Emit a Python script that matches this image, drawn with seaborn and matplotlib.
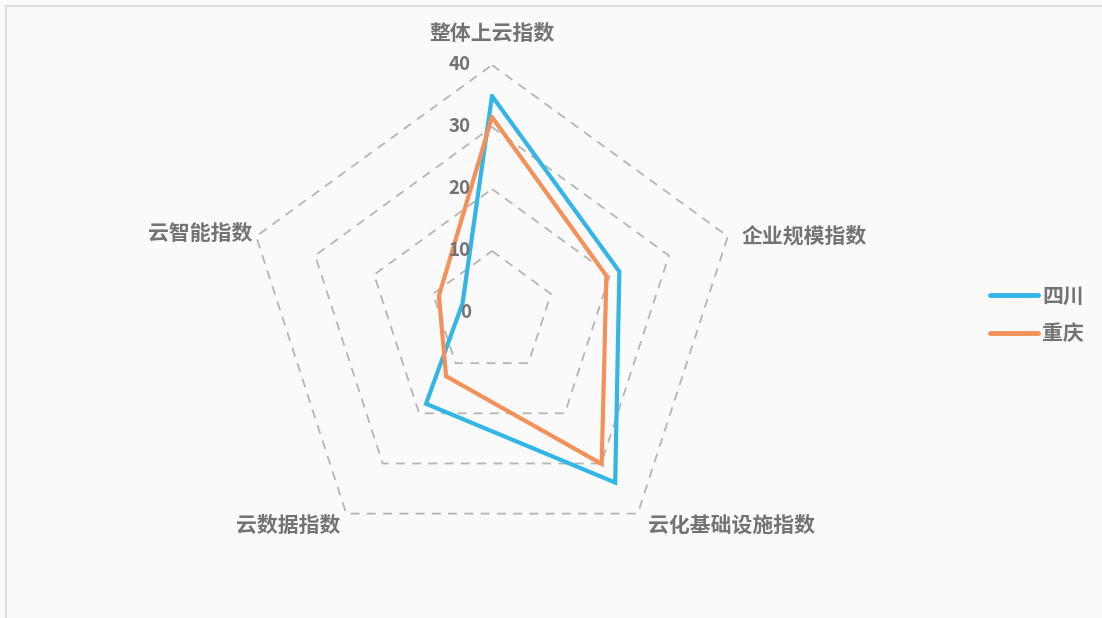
import numpy as np
import pandas as pd
import matplotlib
matplotlib.use("Agg")
import matplotlib.pyplot as plt
from matplotlib.lines import Line2D
from matplotlib.patches import Rectangle
import seaborn as sns

# Data
categories = ["整体上云指数", "企业规模指数", "云化基础设施指数", "云数据指数", "云智能指数"]
sichuan = [35.0, 21.6, 33.8, 18.1, 5.0]
chongqing = [31.6, 19.4, 30.1, 12.6, 9.0]
series_names = ["四川", "重庆"]
colors = ["#33b6e6", "#f4915a"]
ring_values = [10, 20, 30, 40]
tick_values = [0, 10, 20, 30, 40]

sns.set_theme(style="white")
plt.rcParams["font.family"] = ["Noto Sans CJK SC", "DejaVu Sans"]
text_color = "#737373"

n = len(categories)
angles = np.linspace(0, 2 * np.pi, n, endpoint=False)
closed = np.append(angles, angles[0] + 2 * np.pi)

rows = []
for name, vals in zip(series_names, [sichuan, chongqing]):
    vv = vals + vals[:1]
    for i, (t, v) in enumerate(zip(closed, vv)):
        rows.append({"region": name, "theta": t, "value": v, "order": i})
df = pd.DataFrame(rows)

fig = plt.figure(figsize=(11.02, 6.18), dpi=100, facecolor="#fafafa")
W, H = 1102, 618
cx, cy, R = 492, 313, 248
ax = fig.add_axes([(cx - R) / W, (H - cy - R) / H, 2 * R / W, 2 * R / H],
                  projection="polar")
ax.set_facecolor("none")
ax.set_theta_offset(np.pi / 2)
ax.set_theta_direction(-1)
ax.set_ylim(0, 40)
ax.grid(False)
ax.spines["polar"].set_visible(False)
ax.set_xticks([])
ax.set_yticks([])

# pentagon rings
for r in ring_values:
    ax.plot(closed, [r] * len(closed), color="#b5b5b5", lw=1.3,
            ls=(0, (5, 4)), zorder=1)

sns.lineplot(data=df, x="theta", y="value", hue="region", hue_order=series_names,
             palette=colors, sort=False, estimator=None, units="region",
             linewidth=3.0, legend=False, ax=ax, solid_joinstyle="miter", zorder=3)
ax.set_xlabel("")
ax.set_ylabel("")

# radial tick labels
for v in tick_values:
    ax.annotate(str(v), xy=(0, v), xytext=(-21, 0), textcoords="offset pixels",
                ha="right", va="center", fontsize=13.5, fontweight="bold",
                color=text_color, annotation_clip=False)

# category labels
offsets = [(0, 32, "center"), (14, 0, "left"), (10, -12, "left"),
           (-6, -12, "right"), (-4, 3, "right")]
for t, lab, (dx, dy, ha) in zip(angles, categories, offsets):
    ax.annotate(lab, xy=(t, 40), xytext=(dx, dy), textcoords="offset pixels",
                ha=ha, va="center", fontsize=15, fontweight="bold",
                color=text_color, annotation_clip=False)

handles = [Line2D([], [], color=c, lw=3.5, solid_capstyle="round") for c in colors]
leg = fig.legend(handles, series_names, loc="center left",
                 bbox_to_anchor=(990 / W, 1 - 315 / H), frameon=False,
                 handlelength=2.3, handletextpad=0.2, labelspacing=0.8,
                 borderpad=0, borderaxespad=0,
                 prop={"size": 15, "weight": "bold"})
for txt in leg.get_texts():
    txt.set_color(text_color)

# outer frame
fig.patches.append(Rectangle((6 / W, -0.05), 1.1, 1 - 6 / H + 0.05,
                             transform=fig.transFigure, fill=False,
                             edgecolor="#dcdcdc", lw=1.5, zorder=0))

fig.savefig("out.png", dpi=100, facecolor=fig.get_facecolor())
